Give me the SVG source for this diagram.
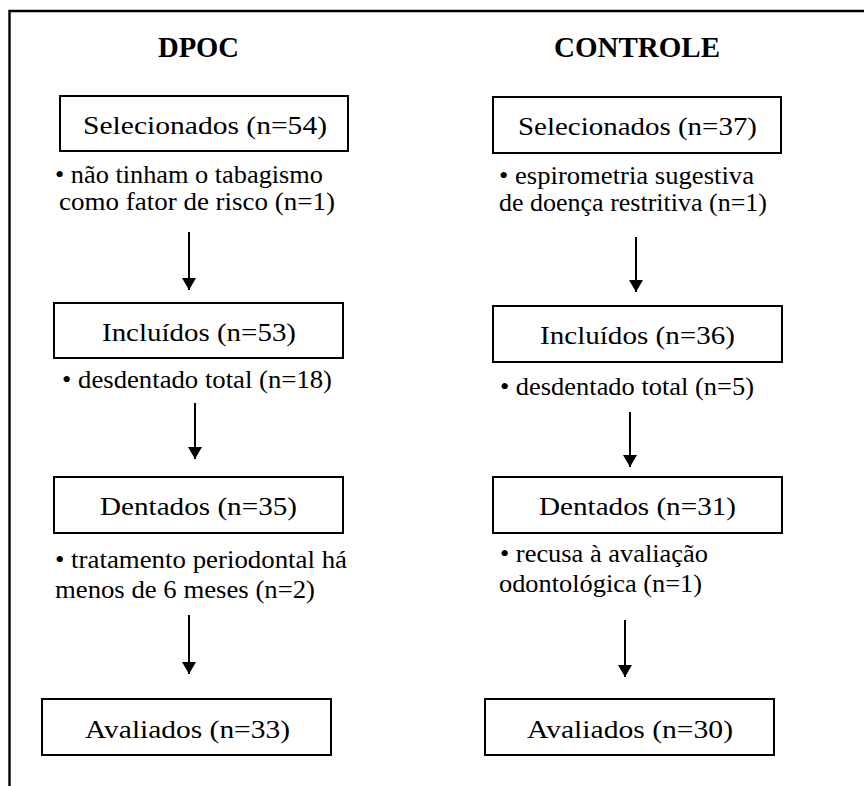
<svg xmlns="http://www.w3.org/2000/svg" width="864" height="786" viewBox="0 0 864 786">
<style>
  .frame { fill: none; stroke: #000; stroke-width: 2.4; }
  .box { fill: #fff; stroke: #000; stroke-width: 2; }
  .t { font-size: 26px; fill: #000; }
  .title { font-size: 30px; font-weight: bold; fill: #000; }
  .conn line { stroke: #000; stroke-width: 2; }
</style>
<defs>
  <marker id="ah" viewBox="0 0 12 14" refX="12" refY="7" markerWidth="12" markerHeight="14" markerUnits="userSpaceOnUse" orient="auto">
    <path d="M0,0 L12,7 L0,14 Z" fill="#000"/>
  </marker>
</defs>
<rect width="864" height="786" fill="#fff"/>
<path class="frame" d="M9.5,786 L9.5,11 L864,11"/>

<g font-family="'Liberation Serif', 'DejaVu Serif', serif">
<g id="title-dpoc"><text class="title" x="158" y="57" textLength="81" lengthAdjust="spacingAndGlyphs">DPOC</text></g>
<g id="title-controle"><text class="title" x="554" y="57" textLength="166" lengthAdjust="spacingAndGlyphs">CONTROLE</text></g>

<!-- Left column -->
<g id="dpoc-selecionados">
  <rect class="box" x="60" y="96" width="288" height="55"/>
  <text class="t" x="83" y="134" textLength="244" lengthAdjust="spacingAndGlyphs">Selecionados (n=54)</text>
</g>
<g id="dpoc-excl1">
  <text class="t" x="55" y="183" textLength="268" lengthAdjust="spacingAndGlyphs">• não tinham o tabagismo</text>
  <text class="t" x="59" y="210" textLength="276" lengthAdjust="spacingAndGlyphs">como fator de risco (n=1)</text>
</g>
<g id="dpoc-incluidos">
  <rect class="box" x="54" y="303" width="289" height="55"/>
  <text class="t" x="102" y="341" textLength="194" lengthAdjust="spacingAndGlyphs">Incluídos (n=53)</text>
</g>
<g id="dpoc-excl2">
  <text class="t" x="62" y="388" textLength="270" lengthAdjust="spacingAndGlyphs">• desdentado total (n=18)</text>
</g>
<g id="dpoc-dentados">
  <rect class="box" x="54" y="477" width="289" height="56"/>
  <text class="t" x="100" y="515" textLength="197" lengthAdjust="spacingAndGlyphs">Dentados (n=35)</text>
</g>
<g id="dpoc-excl3">
  <text class="t" x="55" y="568" textLength="292" lengthAdjust="spacingAndGlyphs">• tratamento periodontal há</text>
  <text class="t" x="55" y="598" textLength="260" lengthAdjust="spacingAndGlyphs">menos de 6 meses (n=2)</text>
</g>
<g id="dpoc-avaliados">
  <rect class="box" x="42" y="699" width="289" height="56"/>
  <text class="t" x="85" y="738" textLength="205" lengthAdjust="spacingAndGlyphs">Avaliados (n=33)</text>
</g>

<!-- Right column -->
<g id="ctrl-selecionados">
  <rect class="box" x="493" y="97" width="288" height="56"/>
  <text class="t" x="518" y="135" textLength="239" lengthAdjust="spacingAndGlyphs">Selecionados (n=37)</text>
</g>
<g id="ctrl-excl1">
  <text class="t" x="499" y="184" textLength="255" lengthAdjust="spacingAndGlyphs">• espirometria sugestiva</text>
  <text class="t" x="499" y="211" textLength="268" lengthAdjust="spacingAndGlyphs">de doença restritiva (n=1)</text>
</g>
<g id="ctrl-incluidos">
  <rect class="box" x="493" y="306" width="289" height="56"/>
  <text class="t" x="540" y="344" textLength="195" lengthAdjust="spacingAndGlyphs">Incluídos (n=36)</text>
</g>
<g id="ctrl-excl2">
  <text class="t" x="500" y="395" textLength="254" lengthAdjust="spacingAndGlyphs">• desdentado total (n=5)</text>
</g>
<g id="ctrl-dentados">
  <rect class="box" x="493" y="477" width="289" height="56"/>
  <text class="t" x="539" y="515" textLength="197" lengthAdjust="spacingAndGlyphs">Dentados (n=31)</text>
</g>
<g id="ctrl-excl3">
  <text class="t" x="500" y="562" textLength="208" lengthAdjust="spacingAndGlyphs">• recusa à avaliação</text>
  <text class="t" x="499" y="592" textLength="203" lengthAdjust="spacingAndGlyphs">odontológica (n=1)</text>
</g>
<g id="ctrl-avaliados">
  <rect class="box" x="485" y="699" width="289" height="56"/>
  <text class="t" x="527" y="738" textLength="206" lengthAdjust="spacingAndGlyphs">Avaliados (n=30)</text>
</g>
</g>

<g id="connectors" class="conn">
  <line x1="189" y1="232" x2="189" y2="290" marker-end="url(#ah)"/>
  <line x1="195" y1="403" x2="195" y2="459" marker-end="url(#ah)"/>
  <line x1="189" y1="615" x2="189" y2="674" marker-end="url(#ah)"/>
  <line x1="636" y1="237" x2="636" y2="292" marker-end="url(#ah)"/>
  <line x1="630" y1="412" x2="630" y2="467" marker-end="url(#ah)"/>
  <line x1="625" y1="620" x2="625" y2="677" marker-end="url(#ah)"/>
</g>
</svg>
